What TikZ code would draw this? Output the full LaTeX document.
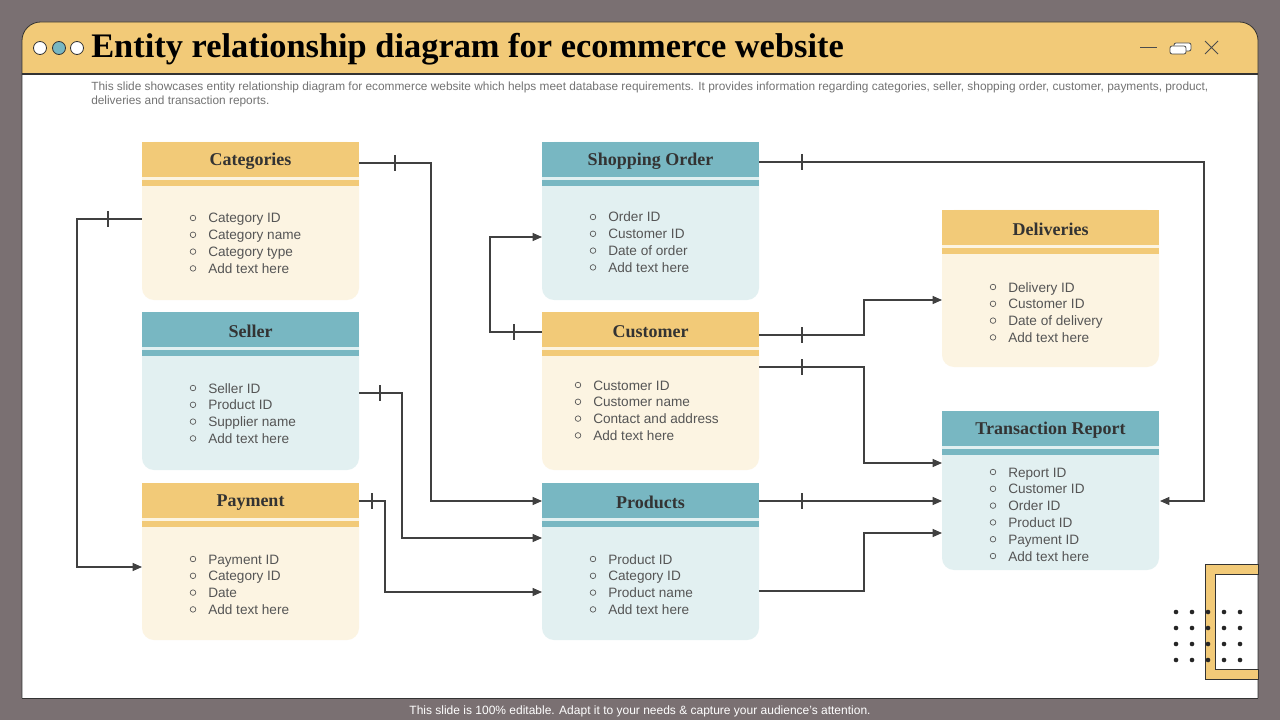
\documentclass[tikz,border=0pt]{standalone}
\usepackage{fontspec}
\setmainfont{Liberation Serif}
\setsansfont{Liberation Sans}
\usetikzlibrary{arrows.meta}
\definecolor{bg}{HTML}{7A7072}
\definecolor{hdY}{HTML}{F2CA78}
\definecolor{bdY}{HTML}{FCF4E2}
\definecolor{hdT}{HTML}{78B7C2}
\definecolor{bdT}{HTML}{E2F0F1}
\definecolor{ln}{HTML}{404040}
\definecolor{txt}{HTML}{555555}
\tikzset{
 ttl/.style={font=\bfseries\fontsize{13.5}{15}\selectfont, text=black!80},
 itm/.style={font=\sffamily\fontsize{10.2}{12}\selectfont, text=txt, anchor=base west, inner sep=0},
 bul/.style={circle, draw=txt, line width=0.5pt, inner sep=0, minimum size=4.2pt},
 con/.style={draw=ln, line width=0.8pt, -{Triangle[length=7pt,width=6pt]}},
 tick/.style={draw=ln, line width=0.8pt},
}
\newcommand\erbox[6]{%
 \fill[bd#5, rounded corners=9] (#2,#3) rectangle (#2+217,#4);
 \fill[hd#5] (#2,#3) rectangle (#2+217,#3+35);
 \fill[hd#5] (#2,#3+38) rectangle (#2+217,#3+44);
 \node[ttl] (#1) at (#2+108.5,#3+19.5) {#6};
}
\newcommand\items[3]{%
 \foreach \t [count=\i] in {#3} {
  \node[bul] at (#1-15,#2+\i*16.8-16.8) {};
  \node[itm] at (#1,#2+\i*16.8-16.8+5) {\t};
 }
}
\newcommand\tk[2]{\draw[tick] (#1,#2-8) -- (#1,#2+8);}
\begin{document}
\begin{tikzpicture}[x=0.75pt,y=-0.75pt]
\fill[bg] (0,0) rectangle (1280,720);
\useasboundingbox (0,0) rectangle (1280,720);
\fill[hdY, rounded corners=14] (22,22) rectangle (1258,120);
\fill[white] (22,74) rectangle (1258,698);
\draw[black!80, line width=0.6pt, rounded corners=14] (22,698) -- (22,22) -- (1258,22) -- (1258,698);
\draw[black!80, line width=0.6pt] (22,698) -- (1258,698);
\draw[black!80, line width=0.8pt] (22,74) -- (1258,74);
\draw[black!80, fill=white, line width=0.6pt] (40,48) circle (6.5);
\draw[black!80, fill=hdT, line width=0.6pt] (59,48) circle (6.5);
\draw[black!80, fill=white, line width=0.6pt] (77,48) circle (6.5);
\node[anchor=west, inner sep=0, font=\bfseries\fontsize{25.8}{28}\selectfont] (title) at (91,49) {Entity relationship diagram for ecommerce website};
% window icons
\draw[black!70, line width=0.6pt] (1140,47) -- (1157,47);
\draw[black!70, line width=0.6pt, fill=white, rounded corners=1.5] (1174,43) rectangle (1191,51);
\draw[black!70, line width=0.6pt, fill=white, rounded corners=1.5] (1170,46) rectangle (1186,54);
\draw[black!70, line width=0.6pt] (1205,41) -- (1218,54) (1218,41) -- (1205,54);
\node[anchor=north west, inner sep=0, align=left, text=black!55, font=\sffamily\fontsize{8.9}{10.5}\selectfont] (sub) at (91,82) {This slide showcases entity relationship diagram for ecommerce website which helps meet database requirements. It provides information regarding categories, seller, shopping order, customer, payments, product,\\deliveries and transaction reports.};
\node[text=white, font=\sffamily\fontsize{9}{10}\selectfont] (foot) at (640,711) {This slide is 100\% editable. Adapt it to your needs \& capture your audience’s attention.};
% boxes
\erbox{cat}{142}{142}{300}{Y}{Categories}
\erbox{sel}{142}{312}{470}{T}{Seller}
\erbox{pay}{142}{483}{640}{Y}{Payment}
\erbox{sho}{542}{142}{300}{T}{Shopping Order}
\erbox{cus}{542}{312}{470}{Y}{Customer}
\erbox{pro}{542}{483}{640}{T}{Products}
\erbox{del}{942}{210}{367}{Y}{Deliveries}
\erbox{tra}{942}{411}{570}{T}{Transaction Report}
\items{208}{218}{Category ID,Category name,Category type,Add text here}
\items{208}{388}{Seller ID,Product ID,Supplier name,Add text here}
\items{208}{559}{Payment ID,Category ID,Date,Add text here}
\items{608}{217}{Order ID,Customer ID,Date of order,Add text here}
\items{593}{385}{Customer ID,Customer name,Contact and address,Add text here}
\items{608}{559}{Product ID,Category ID,Product name,Add text here}
\items{1008}{287}{Delivery ID,Customer ID,Date of delivery,Add text here}
\items{1008}{472}{Report ID,Customer ID,Order ID,Product ID,Payment ID,Add text here}
% connector coordinates
\coordinate (c1a) at (359,163); \coordinate (c1b) at (542,501);
\coordinate (c2a) at (142,219); \coordinate (c2b) at (142,567);
\coordinate (c3a) at (359,393); \coordinate (c3b) at (542,538);
\coordinate (c4a) at (359,501); \coordinate (c4b) at (542,592);
\coordinate (c5a) at (542,332); \coordinate (c5b) at (542,237);
\coordinate (c6a) at (759,162); \coordinate (c6b) at (1160,501);
\coordinate (c7a) at (759,335); \coordinate (c7b) at (942,300);
\coordinate (c8a) at (759,367); \coordinate (c8b) at (942,463);
\coordinate (c9a) at (759,501); \coordinate (c9b) at (942,501);
\coordinate (c10a) at (759,591); \coordinate (c10b) at (942,533);
\draw[con] (c1a) -- (431,163) |- (c1b);
\draw[con] (c2a) -- (77,219) |- (c2b);
\draw[con] (c3a) -- (402,393) |- (c3b);
\draw[con] (c4a) -- (385,501) |- (c4b);
\draw[con] (c5a) -- (490,332) |- (c5b);
\draw[con] (c6a) -- (1204,162) |- (c6b);
\draw[con] (c7a) -- (864,335) |- (c7b);
\draw[con] (c8a) -- (864,367) |- (c8b);
\draw[con] (c9a) -- (c9b);
\draw[con] (c10a) -- (864,591) |- (c10b);
\tk{395}{163} \tk{108}{219} \tk{380}{393} \tk{372}{501} \tk{514}{332}
\tk{802}{162} \tk{802}{335} \tk{802}{367} \tk{802}{501}
% decoration
\fill[hdY, draw=black!80, line width=0.6pt] (1258,564) -- (1205,564) -- (1205,679) -- (1258,679) -- (1258,669) -- (1215,669) -- (1215,574) -- (1258,574) -- cycle;
\foreach \xx in {1176,1192,1208,1224,1240} \foreach \yy in {612,628,644,660} \fill[black!85] (\xx,\yy) circle (2.3);
\end{tikzpicture}
\end{document}
